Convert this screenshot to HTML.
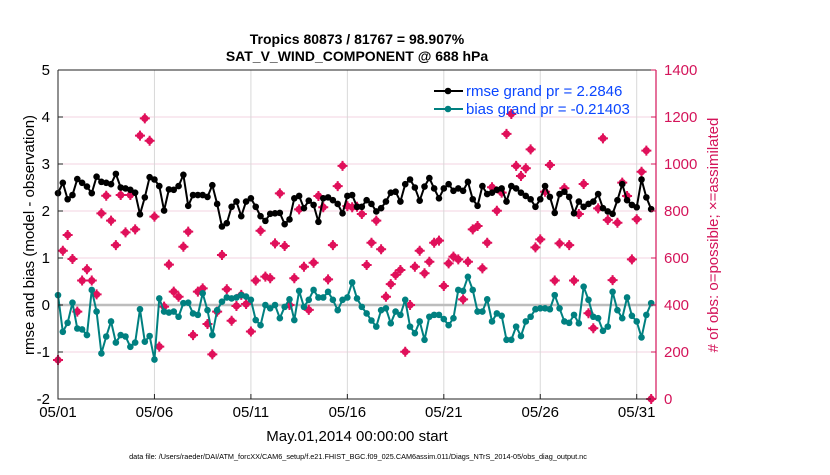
<!DOCTYPE html>
<html><head><meta charset="utf-8"><style>
body{margin:0;background:#fff;}
svg text{font-family:"Liberation Sans",Arial,sans-serif;}
</style></head><body>
<svg id="chart" width="830" height="470" viewBox="0 0 830 470" xmlns="http://www.w3.org/2000/svg">
<g id="grid"></g>
<g id="marks"></g>
<g id="axes"></g>
<text x="357" y="44" text-anchor="middle" font-size="14" font-weight="bold">Tropics 80873 / 81767 = 98.907%</text>
<text x="357" y="61" text-anchor="middle" font-size="14" font-weight="bold">SAT_V_WIND_COMPONENT @ 688 hPa</text>
<text transform="translate(34,235) rotate(-90)" text-anchor="middle" font-size="15">rmse and bias (model - observation)</text>
<text transform="translate(718,235) rotate(-90)" text-anchor="middle" font-size="15" fill="#d4145a">
# of obs: o=possible; ×=assimilated</text>
<text x="357" y="441" text-anchor="middle" font-size="15">May.01,2014 00:00:00 start</text>
<text x="358" y="459" text-anchor="middle" font-size="7.3">data file: /Users/raeder/DAI/ATM_forcXX/CAM6_setup/f.e21.FHIST_BGC.f09_025.CAM6assim.011/Diags_NTrS_2014-05/obs_diag_output.nc</text>
<g>
<line x1="434" y1="91" x2="463" y2="91" stroke="#000" stroke-width="2"/><circle cx="448" cy="91" r="3.3" fill="#000"/>
<text x="466" y="96" font-size="15" fill="#0a46ff">rmse grand pr = 2.2846</text>
<line x1="434" y1="109" x2="463" y2="109" stroke="#008080" stroke-width="2"/><circle cx="448" cy="109" r="3.3" fill="#008080"/>
<text x="466" y="114" font-size="15" fill="#0a46ff">bias grand pr = -0.21403</text>
</g>
</svg>
<script>
const rmse=[2.38,2.60,2.25,2.34,2.68,2.60,2.52,2.38,2.73,2.62,2.60,2.57,2.79,2.50,2.48,2.45,2.39,1.93,2.29,2.72,2.67,2.53,2.01,2.46,2.45,2.53,2.77,2.11,2.34,2.34,2.34,2.30,
2.55,2.15,1.67,1.74,2.09,2.20,1.89,2.20,2.27,2.09,1.89,1.79,1.94,1.95,1.96,1.72,1.82,2.27,2.32,2.06,2.22,2.13,1.77,2.27,2.29,2.23,2.15,1.95,2.32,2.34,2.09,
2.09,2.23,2.15,1.99,2.06,2.20,2.39,2.41,2.20,2.57,2.67,2.50,2.22,2.52,2.70,2.48,2.27,2.48,2.57,2.43,2.48,2.43,2.62,2.25,2.11,2.53,2.36,2.39,2.45,2.48,2.20,
2.53,2.48,2.39,2.32,2.25,2.09,2.25,2.53,2.30,1.96,2.36,2.41,2.30,1.95,2.20,2.09,2.15,2.20,2.36,2.06,1.99,1.94,2.23,2.57,2.23,2.13,2.08,2.67,2.29,2.04];
const bias=[0.21,-0.57,-0.38,0.05,-0.50,-0.52,-0.64,0.32,-0.14,-1.03,-0.67,-0.35,-0.80,-0.64,-0.67,-0.89,-0.80,-0.09,-0.78,-0.66,-1.16,0.14,-0.14,-0.16,-0.14,-0.25,0.04,0.05,-0.18,-0.21,0.25,-0.11,
-0.64,-0.11,0.07,0.16,0.14,0.16,0.21,0.18,0.11,-0.32,-0.43,0,-0.07,0,-0.28,-0.04,0.12,-0.32,0.30,-0.04,0.11,0.32,0.16,0.16,0.28,0.11,-0.11,0.11,0.16,0.48,0.14,
-0.04,-0.18,-0.33,-0.46,-0.11,-0.07,-0.39,-0.14,-0.21,0.11,-0.46,-0.60,-0.35,-0.74,-0.25,-0.21,-0.21,-0.30,-0.43,-0.28,0.32,0.30,0.60,0.32,-0.14,-0.14,0.12,-0.35,-0.18,-0.23,-0.74,
-0.74,-0.46,-0.66,-0.35,-0.25,-0.09,-0.07,-0.07,-0.09,0.21,-0.07,-0.35,-0.38,-0.21,-0.39,0.39,0.11,-0.25,-0.28,-0.55,-0.46,0.28,-0.11,-0.28,0.16,-0.23,-0.35,-0.69,-0.21,0.04];
const nobs=[166,631,698,596,372,504,552,504,445,790,865,759,655,868,709,868,722,1121,1194,1099,776,223,393,572,457,435,648,712,272,457,471,319,
190,372,613,467,333,396,443,404,287,504,716,521,514,662,875,651,400,514,807,563,379,580,864,816,509,655,906,992,821,816,818,
787,570,665,759,637,435,489,528,549,201,400,563,631,535,584,665,674,481,577,606,594,424,584,722,736,556,665,901,801,878,1128,
1213,992,949,982,1062,645,679,882,996,504,662,897,655,504,787,915,365,301,811,1109,762,506,750,921,864,594,765,967,1057,0];
const leftTicks=[-2,-1,0,1,2,3,4,5];
const rightTicks=[0,200,400,600,800,1000,1200,1400];
const xTickDays=[0,5,10,15,20,25,30];
const xTickLabels=["05/01","05/06","05/11","05/16","05/21","05/26","05/31"];

const L=58,R=656,T=70,B=399;
const xs=d=>L+(R-L)*d/31;
const ys=v=>B-(B-T)*(v+2)/7;
const yr=v=>B-(B-T)*v/1400;
const NS="http://www.w3.org/2000/svg";
function mk(tag,parent,attrs){const e=document.createElementNS(NS,tag);for(const k in attrs)e.setAttribute(k,attrs[k]);parent.appendChild(e);return e;}
const grid=document.getElementById('grid'),marks=document.getElementById('marks'),axes=document.getElementById('axes');

leftTicks.forEach(v=>{if(v===0||v===5||v===-2)return;
 const g=mk('line',grid,{x1:L,x2:R,y1:ys(v),y2:ys(v),stroke:'#f3d3e0','stroke-width':1});
 
 });
xTickDays.forEach(d=>{if(d===0)return;
 const g=mk('line',grid,{x1:xs(d),x2:xs(d),y1:T,y2:B,stroke:'#d8d8d8','stroke-width':1});
 
 });
const z=mk('line',grid,{x1:L,x2:R,y1:ys(0),y2:ys(0),stroke:'#bdbdbd','stroke-width':2.5});



// obs count markers
nobs.forEach((v,i)=>{const x=xs(i/4),y=yr(v);
 const g=mk('g',marks,{});
 
 
 mk('circle',g,{cx:x,cy:y,r:3.6,fill:'#e0105a'});
 mk('path',g,{d:`M${x-5} ${y}H${x+5}M${x} ${y-5}V${y+5}`,stroke:'#e0105a','stroke-width':2});
});
function series(arr,color,name){
 const p=mk('polyline',marks,{points:arr.map((v,i)=>xs(i/4)+','+ys(v)).join(' '),fill:'none',stroke:color,'stroke-width':2});
 
 
 arr.forEach((v,i)=>{const c=mk('circle',marks,{cx:xs(i/4),cy:ys(v),r:3.3,fill:color});
  
  });
}
series(rmse,'#000','rmse');
series(bias,'#008080','bias');

// axes
const frame=mk('path',axes,{d:`M${L} ${T}H${R}M${L} ${T}V${B}H${R}`,fill:'none',stroke:'#222','stroke-width':1});


const ra=mk('line',axes,{x1:R,x2:R,y1:T,y2:B,stroke:'#d4145a','stroke-width':1.2});


leftTicks.forEach(v=>{
 mk('line',axes,{x1:L,x2:L+5,y1:ys(v),y2:ys(v),stroke:'#222'});
 const t=mk('text',axes,{x:L-8,y:ys(v)+5,'text-anchor':'end','font-size':15});
 t.textContent=v;
 
 });
rightTicks.forEach(v=>{
 mk('line',axes,{x1:R-5,x2:R,y1:yr(v),y2:yr(v),stroke:'#d4145a'});
 const t=mk('text',axes,{x:R+8,y:yr(v)+5,'font-size':15,fill:'#d4145a'});
 t.textContent=v;
 
 });
xTickDays.forEach((d,i)=>{
 mk('line',axes,{x1:xs(d),x2:xs(d),y1:B-5,y2:B,stroke:'#222'});
 const t=mk('text',axes,{x:xs(d),y:B+18,'text-anchor':'middle','font-size':15});
 t.textContent=xTickLabels[i];
 
 });
</script>
</body></html>
